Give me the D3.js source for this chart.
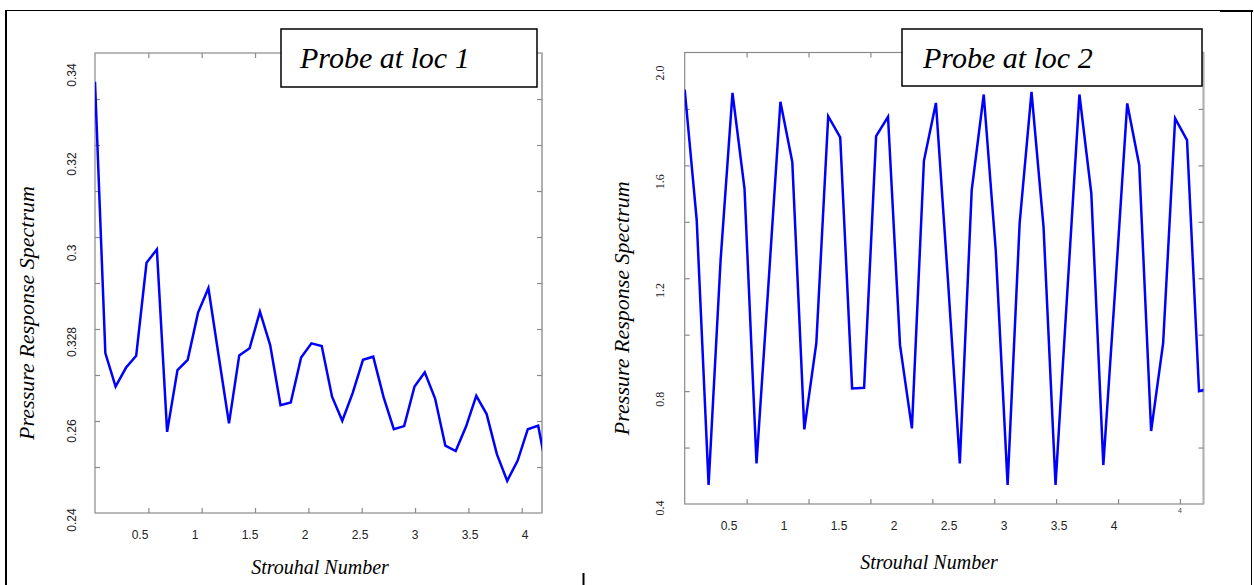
<!DOCTYPE html>
<html>
<head>
<meta charset="utf-8">
<script src="https://cdn.jsdelivr.net/npm/d3@7"></script>
<style>
  body { margin: 0; background: #fff; }
  svg { display: block; }
</style>
</head>
<body>
<div id="chart"></div>
<script>
// Strouhal number axis (same sampling in both probes)
const strouhal = [0, 0.097, 0.193, 0.29, 0.386, 0.483, 0.58, 0.676, 0.773, 0.869,
  0.966, 1.063, 1.159, 1.256, 1.352, 1.449, 1.546, 1.642, 1.739, 1.835,
  1.932, 2.029, 2.125, 2.222, 2.318, 2.415, 2.512, 2.608, 2.705, 2.801,
  2.898, 2.995, 3.091, 3.188, 3.284, 3.381, 3.478, 3.574, 3.671, 3.767,
  3.864, 3.961, 4.057, 4.154, 4.25];

const loc1 = [0.3385, 0.2775, 0.27, 0.2742, 0.2769, 0.2978, 0.3008, 0.2598, 0.2737, 0.276,
  0.2866, 0.2921, 0.2769, 0.2617, 0.277, 0.2786, 0.2868, 0.2793, 0.2658, 0.2664,
  0.2765, 0.2797, 0.2791, 0.2677, 0.2623, 0.2685, 0.276, 0.2767, 0.2676, 0.2604,
  0.2611, 0.27, 0.2732, 0.2673, 0.2567, 0.2555, 0.261, 0.2679, 0.2638, 0.2548,
  0.2488, 0.2533, 0.2604, 0.2612, 0.2494];

const loc2 = [1.939, 1.459, 0.485, 1.312, 1.927, 1.575, 0.564, 1.22, 1.894, 1.673,
  0.689, 1.006, 1.841, 1.763, 0.84, 0.842, 1.768, 1.839, 0.999, 0.693,
  1.677, 1.89, 1.246, 0.564, 1.569, 1.921, 1.349, 0.485, 1.447, 1.931,
  1.434, 0.485, 1.201, 1.921, 1.557, 0.558, 1.214, 1.888, 1.661, 0.683,
  1.006, 1.833, 1.753, 0.83, 0.841];

const xTicks = [0.5, 1, 1.5, 2, 2.5, 3, 3.5, 4];
const xTickLabels = ["0.5", "1", "1.5", "2", "2.5", "3", "3.5", "4"];

const yTicks1 = [0.24, 0.26, 0.28, 0.3, 0.32, 0.34];
const yTickLabels1 = ["0.24", "0.26", "0.328", "0.3", "0.32", "0.34"];

const yTicks2 = [0.4, 0.8, 1.2, 1.6, 2.0];
const yTickLabels2 = ["0.4", "0.8", "1.2", "1.6", "2.0"];

const titles = ["Probe at loc 1", "Probe at loc 2"];

const width = 1254;
const height = 585;
const serif = "'Liberation Serif', 'Times New Roman', serif";
const sans = "'Liberation Sans', Arial, sans-serif";

const svg = d3.select("#chart")
  .append("svg")
  .attr("width", width)
  .attr("height", height);

// outer page frame
const frame = svg.append("g").attr("stroke", "#000").attr("fill", "none");
frame.append("line").attr("x1", 6).attr("x2", 6).attr("y1", 10).attr("y2", height).attr("stroke-width", 2);
frame.append("line").attr("x1", 6).attr("x2", 1222).attr("y1", 10.5).attr("y2", 10.5);
frame.append("line").attr("x1", 1220).attr("x2", 1253).attr("y1", 11).attr("y2", 11).attr("stroke-width", 2);
frame.append("line").attr("x1", 1251.5).attr("x2", 1251.5).attr("y1", 10).attr("y2", height);
frame.append("line").attr("x1", 583.5).attr("x2", 583.5).attr("y1", 573).attr("y2", height).attr("stroke-width", 2);

const panels = [
  {
    values: loc1, title: titles[0],
    left: 95, right: 542, top: 53, bottom: 513,
    yDomain: [0.24, 0.34], yRange: [520, 75], frameDivs: 10,
    yTicks: yTicks1, yLabels: yTickLabels1, yLabelX: 76, yFont: sans,
    xLabelRange: [140, 525], xLabelY: 539,
    box: [281, 29, 256, 58], titleX: 300,
    yTitleX: 34, xTitleX: 320, xTitleY: 574
  },
  {
    values: loc2, title: titles[1],
    left: 684.7, right: 1203.5, top: 52.5, bottom: 504,
    yDomain: [0.4, 2.0], yRange: [508, 73], frameDivs: 8,
    yTicks: yTicks2, yLabels: yTickLabels2, yLabelX: 664, yFont: serif,
    xLabelRange: [729, 1114], xLabelY: 530,
    box: [902, 29, 300, 57], titleX: 923,
    yTitleX: 629, xTitleX: 929, xTitleY: 569
  }
];

panels.forEach((p, idx) => {
  const g = svg.append("g");

  const x = d3.scaleLinear().domain([0, 4.19]).range([p.left, p.right]);
  const y = d3.scaleLinear().domain(p.yDomain).range(p.yRange);
  const xLab = d3.scaleLinear().domain([0.5, 4]).range(p.xLabelRange);
  const yFrame = d3.scaleLinear().domain([0, p.frameDivs]).range([p.bottom, p.top]);
  const frameTicks = d3.range(1, p.frameDivs);

  // plot frame
  g.append("rect")
    .attr("x", p.left).attr("y", p.top)
    .attr("width", p.right - p.left).attr("height", p.bottom - p.top)
    .attr("fill", "none").attr("stroke", "#8a8a8a").attr("stroke-width", 1.2);
  g.append("line")
    .attr("x1", p.right).attr("x2", p.right).attr("y1", p.top).attr("y2", p.bottom)
    .attr("stroke", "#b0b0b0").attr("stroke-width", 2);

  // inner ticks on all four sides, no labels
  const tickStyle = sel => {
    sel.select(".domain").remove();
    sel.selectAll(".tick line").attr("stroke", "#8a8a8a").attr("stroke-width", 1.2);
    sel.selectAll(".tick text").remove();
  };
  g.append("g").attr("transform", `translate(0,${p.bottom})`)
    .call(d3.axisBottom(x).tickValues(xTicks).tickSize(-5)).call(tickStyle);
  g.append("g").attr("transform", `translate(0,${p.top})`)
    .call(d3.axisTop(x).tickValues(xTicks).tickSize(-5)).call(tickStyle);
  g.append("g").attr("transform", `translate(${p.left},0)`)
    .call(d3.axisLeft(yFrame).tickValues(frameTicks).tickSize(-5)).call(tickStyle);
  g.append("g").attr("transform", `translate(${p.right},0)`)
    .call(d3.axisRight(yFrame).tickValues(frameTicks).tickSize(-5)).call(tickStyle);

  // data line, clipped to the plot area
  const clipId = "clip" + idx;
  svg.append("clipPath").attr("id", clipId)
    .append("rect")
    .attr("x", p.left).attr("y", p.top)
    .attr("width", p.right - p.left).attr("height", p.bottom - p.top);

  const line = d3.line()
    .x((d, i) => x(strouhal[i]))
    .y(d => y(d));

  g.append("path")
    .datum(p.values)
    .attr("clip-path", `url(#${clipId})`)
    .attr("fill", "none")
    .attr("stroke", "#0000ff")
    .attr("stroke-width", 2.5)
    .attr("stroke-linejoin", "miter")
    .attr("d", line);

  // x tick labels
  g.selectAll(".xlab")
    .data(xTicks)
    .enter()
    .append("text")
    .attr("x", d => xLab(d))
    .attr("y", p.xLabelY)
    .attr("text-anchor", "middle")
    .attr("font-family", sans)
    .attr("font-size", 12)
    .attr("fill", "#222")
    .text((d, i) => xTickLabels[i]);

  // y tick labels (rotated)
  g.selectAll(".ylab")
    .data(p.yTicks)
    .enter()
    .append("text")
    .attr("transform", d => `translate(${p.yLabelX},${y(d)}) rotate(-90)`)
    .attr("text-anchor", "middle")
    .attr("font-family", p.yFont)
    .attr("font-size", 12)
    .attr("fill", "#222")
    .text((d, i) => p.yLabels[i]);

  // axis titles
  g.append("text")
    .attr("transform", `translate(${p.yTitleX},${(p.top + p.bottom) / 2 + 30}) rotate(-90)`)
    .attr("text-anchor", "middle")
    .attr("font-family", serif)
    .attr("font-style", "italic")
    .attr("font-size", 22)
    .text("Pressure Response Spectrum");

  g.append("text")
    .attr("x", p.xTitleX)
    .attr("y", p.xTitleY)
    .attr("text-anchor", "middle")
    .attr("font-family", serif)
    .attr("font-style", "italic")
    .attr("font-size", 20)
    .text("Strouhal Number");

  // title box
  g.append("rect")
    .attr("x", p.box[0]).attr("y", p.box[1])
    .attr("width", p.box[2]).attr("height", p.box[3])
    .attr("fill", "#fff").attr("stroke", "#000").attr("stroke-width", 1.5);
  g.append("text")
    .attr("x", p.titleX)
    .attr("y", p.box[1] + 39)
    .attr("font-family", serif)
    .attr("font-style", "italic")
    .attr("font-size", 30)
    .text(p.title);
});

// the stray small "4" under the last tick of the second panel
svg.append("text")
  .attr("x", d3.scaleLinear().domain([0, 4.19]).range([684.7, 1203.5])(4))
  .attr("y", 513)
  .attr("text-anchor", "middle")
  .attr("font-family", sans)
  .attr("font-size", 7)
  .attr("fill", "#444")
  .text("4");
</script>
</body>
</html>
